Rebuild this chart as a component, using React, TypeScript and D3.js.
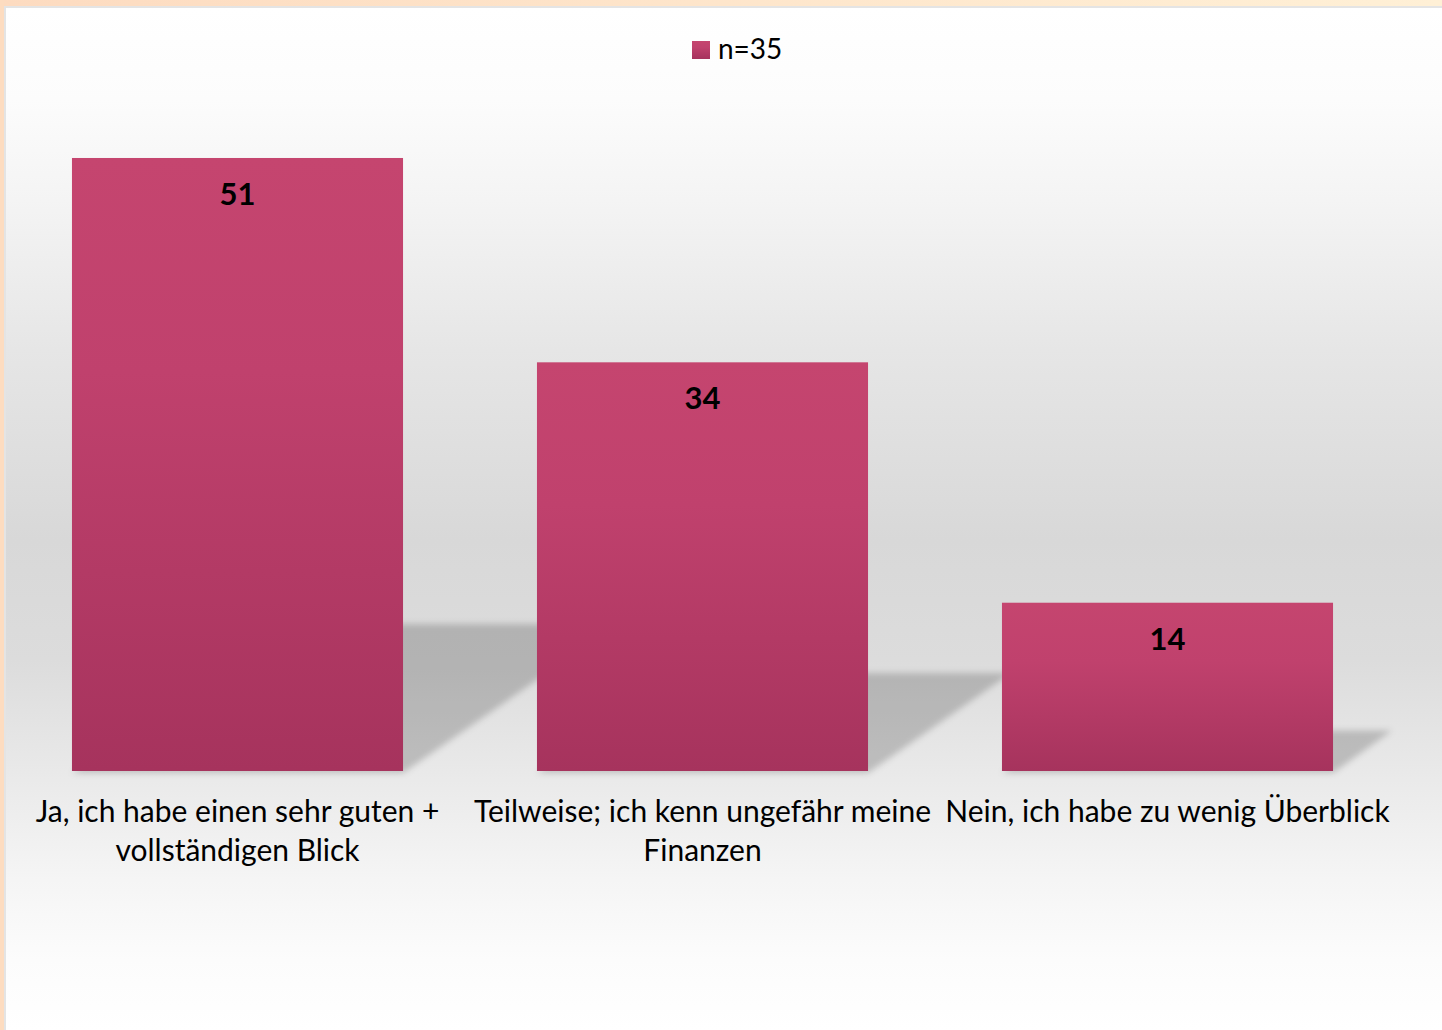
import React from "react";
import * as d3 from "d3";

const categories = ["Ja", "Teilweise", "Nein"];
const categoryLines: string[][] = [
  ["Ja, ich habe einen sehr guten +", "vollständigen Blick"],
  ["Teilweise; ich kenn ungefähr meine", "Finanzen"],
  ["Nein, ich habe zu wenig Überblick"],
];
const values = [51, 34, 14];
const seriesName = "n=35";

const W = 1442;
const H = 1030;
const FONT = "Lato, 'Noto Sans', sans-serif";

export default function App() {
  const x = d3
    .scaleBand<string>()
    .domain(categories)
    .range([5, 1400])
    .paddingInner(0.288)
    .paddingOuter(0.144);
  const y = d3.scaleLinear().domain([0, 60]).range([771, 771 - 60 * 12.02]);
  const base = y(0);
  const k = 0.24;
  const s = 0.35;

  const bgStops: [number, string][] = [
    [8, "#ffffff"],
    [100, "#fcfcfc"],
    [200, "#f4f4f4"],
    [350, "#e6e6e6"],
    [540, "#d8d8d8"],
    [660, "#dcdcdc"],
    [780, "#eaeaea"],
    [880, "#f5f5f5"],
    [960, "#fcfcfc"],
    [1030, "#ffffff"],
  ];

  return (
    <svg
      width={W}
      height={H}
      style={{ position: "absolute", left: 0, top: 0, display: "block" }}
    >
      <defs>
        <linearGradient id="bg" x1="0" y1="0" x2="0" y2={H} gradientUnits="userSpaceOnUse">
          {bgStops.map(([o, c], i) => (
            <stop key={i} offset={o / H} stopColor={c} />
          ))}
        </linearGradient>
        <linearGradient id="bar" x1="0" y1="0" x2="0" y2="1">
          <stop offset="0" stopColor="#c5456f" />
          <stop offset="0.35" stopColor="#c0416d" />
          <stop offset="1" stopColor="#a6335d" />
        </linearGradient>
        <linearGradient id="topBorder" x1="0" y1="0" x2="1" y2="0">
          <stop offset="0" stopColor="#fddbc0" />
          <stop offset="1" stopColor="#fff0d6" />
        </linearGradient>
        <filter id="blur" x="-20%" y="-50%" width="140%" height="200%">
          <feGaussianBlur stdDeviation="3" />
        </filter>
      </defs>

      <rect x={0} y={0} width={W} height={H} fill="url(#bg)" />

      {/* shadows */}
      <g filter="url(#blur)">
        {values.map((v, i) => {
          const xL = x(categories[i])!;
          const xR = xL + x.bandwidth();
          const h = base - y(v);
          const pts = [
            [xL, base + 2],
            [xR, base + 2],
            [xR + s * h, base - k * h],
            [xL + s * h, base - k * h],
          ];
          return (
            <polygon
              key={i}
              points={pts.map((p) => p.join(",")).join(" ")}
              fill="#000"
              fillOpacity={0.19}
            />
          );
        })}
      </g>

      {/* bars */}
      {values.map((v, i) => (
        <rect
          key={i}
          x={x(categories[i])}
          y={y(v)}
          width={x.bandwidth()}
          height={base - y(v)}
          fill="url(#bar)"
        />
      ))}

      {/* value labels */}
      {values.map((v, i) => (
        <text
          key={i}
          x={x(categories[i])! + x.bandwidth() / 2}
          y={y(v) + 47}
          textAnchor="middle"
          fontFamily={FONT}
          fontWeight="bold"
          fontSize={31}
          fill="#000"
        >
          {v}
        </text>
      ))}

      {/* category labels */}
      {categoryLines.map((lines, i) => (
        <text
          key={i}
          textAnchor="middle"
          fontFamily={FONT}
          fontSize={30}
          fill="#000"
        >
          {lines.map((ln, j) => (
            <tspan key={j} x={x(categories[i])! + x.bandwidth() / 2} y={822 + j * 39}>
              {ln}
            </tspan>
          ))}
        </text>
      ))}

      {/* legend */}
      <rect x={692} y={41} width={18} height={18} fill="url(#bar)" />
      <text x={718} y={59} fontFamily={FONT} fontSize={28} fill="#000">
        {seriesName}
      </text>

      {/* borders */}
      <rect x={0} y={0} width={W} height={6} fill="url(#topBorder)" />
      <rect x={4} y={6} width={W} height={2} fill="#e4e4e4" />
      <rect x={0} y={0} width={4} height={H} fill="#fddcc0" />
      <rect x={4} y={6} width={2} height={H} fill="#e4e4e4" />
    </svg>
  );
}
